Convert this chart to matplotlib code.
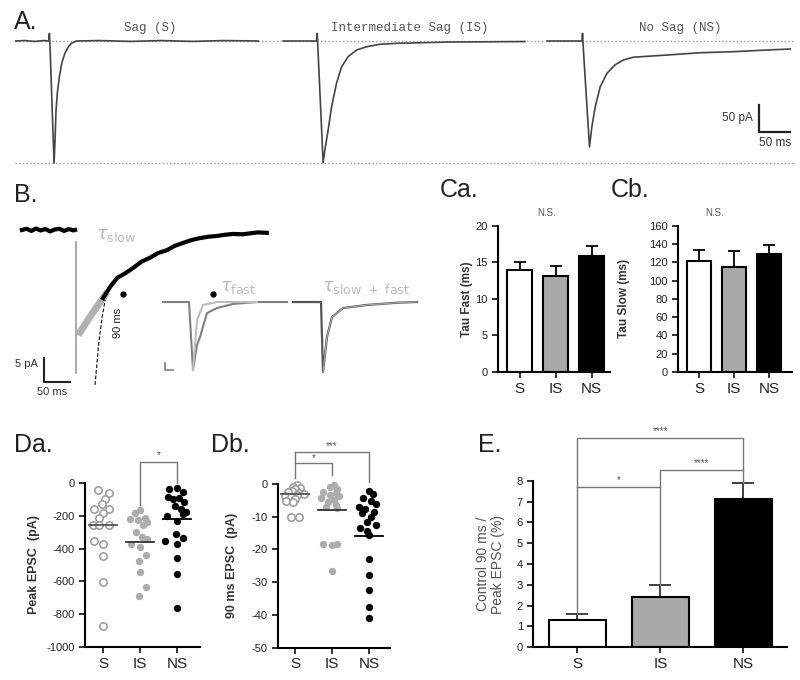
import matplotlib
matplotlib.use("Agg")
import matplotlib.pyplot as plt
import numpy as np

plt.rcParams['font.family'] = ['Liberation Sans', 'DejaVu Sans']
plt.rcParams['axes.unicode_minus'] = False

# ---------------- data ----------------
groups = ['S', 'IS', 'NS']
bar_colors = ['white', '#a9a9a9', 'black']

# panel A traces (ms, pA), t = 0 at stimulus
sag_t = [-56, -40, -25, -10, -2, -1, 0, 6.5, 8.1, 9.7, 11.8, 15, 18.9, 24.2, 29.5, 35, 43,
         80, 130, 180, 230, 280, 336]
sag_i = [0, 0.8, -0.8, 0.8, 0, 14, -10, -226, -183, -128, -96, -67, -41, -22, -11, -3.7, 0,
         0.8, -0.8, 0.8, -0.8, 0.8, 0]
isag_t = [-56, -2, -1, 0, 8.5, 11.3, 16.6, 22.1, 30.2, 38.2, 48.9, 62.4, 78.6, 100, 127, 213, 334]
isag_i = [0, 0, 14, -10, -225, -202, -165, -122, -78, -48, -29, -16.7, -10.6, -6.1, -4.3, -1.9, -1]
nosag_t = [-58, -2, -1, 0, 10.2, 14, 19.4, 27.4, 38.2, 51.6, 65, 81, 135, 189, 242, 296, 334]
nosag_i = [0, 0, 14, -10, -196, -159, -122, -85, -60, -44, -35, -30, -26, -21.7, -19.8, -16.7, -14.8]
trace_offsets = [0, 432, 860]
trace_titles = ['Sag (S)', 'Intermediate Sag (IS)', 'No Sag (NS)']

# panel B example trace (ms, pA)
b_base_t = [-104, -95, -86, -77, -68, -59, -50, -41, -32, -23, -14, -5, -2]
b_base_i = [0, 0.25, -0.2, 0.3, -0.1, 0.2, -0.3, 0.1, 0.25, -0.2, 0.2, -0.1, 0]
b_decay_t = [52, 66, 79, 95, 110, 126, 142, 158, 175, 190, 206, 222, 238, 255, 271, 286, 302, 320, 335, 350, 367]
b_decay_i = [-14.2, -11.8, -10.0, -9.0, -7.9, -6.6, -5.8, -4.8, -4.2, -3.3, -2.7, -2.1, -1.7, -1.4, -1.25, -1.0, -0.83, -0.9, -0.7, -0.5, -0.6]
b_slow_fit_t = [4, 30, 60]
b_slow_fit_i = [-21.9, -17.6, -12.9]
b_fast_ext_t = [36.5, 40, 44, 50, 56]
b_fast_ext_i = [-32.3, -28.1, -23.3, -18.3, -14.6]
b_artifact_i = [-2.5, -29.8]
b_90ms = (90, -13.3)

# panel B inset traces (arbitrary units)
fast_data_t = [-32.5, -1, 0, 5, 10, 13.75, 22.5, 35, 55, 85, 122.5]
fast_data_i = [0, 0, 0, -48.6, -30.7, -25, -7.9, -4.3, -1.4, 0, 0]
fast_fit_t = [5, 10, 17.5, 35, 85]
fast_fit_i = [-48.6, -12.9, -2.1, 0, 0]
combo_t = [130, 164, 165, 167.5, 172.5, 178.75, 192.5, 222.5, 260, 285]
combo_i = [0, 0, 0, -50, -25, -10.7, -4.3, -2.1, -0.5, 0]

# Ca / Cb
tau_fast_mean = [14.0, 13.1, 15.9]
tau_fast_sem = [1.0, 1.4, 1.3]
tau_slow_mean = [121, 115, 129]
tau_slow_sem = [12, 17, 10]

# Da peak EPSC (pA)
peak_s = [-45, -60, -100, -160, -130, -160, -185, -215, -255, -258, -258, -355, -375, -445, -605, -870]
peak_s_dx = [-0.13, 0.16, 0.04, -0.26, -0.02, 0.16, 0.01, -0.11, -0.28, -0.1, 0.16, -0.26, 0.01, 0.0, 0.01, 0.01]
peak_is = [-165, -185, -215, -222, -225, -240, -255, -300, -330, -345, -370, -390, -440, -475, -545, -635, -690]
peak_is_dx = [0.0, -0.15, 0.12, -0.28, -0.05, 0.2, 0.08, -0.12, 0.05, 0.18, -0.25, 0.0, 0.15, -0.02, 0.0, 0.15, -0.02]
peak_ns = [-40, -35, -55, -85, -100, -95, -120, -140, -160, -175, -200, -190, -235, -310, -335, -355, -372, -455, -552, -760]
peak_ns_dx = [-0.22, 0.0, 0.15, -0.25, -0.1, 0.05, 0.18, -0.05, 0.1, 0.25, -0.28, 0.15, 0.0, -0.02, 0.17, -0.32, 0.0, 0.0, 0.0, 0.0]
peak_means = [-256, -360, -220]

# Db 90 ms EPSC (pA)
late_s = [-0.3, -0.8, -1.2, -1.5, -2.0, -2.3, -2.6, -3.0, -3.5, -3.8, -4.1, -4.6, -5.3, -5.5, -10.0, -10.2]
late_s_dx = [0.05, -0.05, 0.15, 0.0, -0.08, -0.2, 0.1, 0.25, 0.05, -0.28, -0.1, 0.0, -0.25, -0.05, -0.1, 0.1]
late_is = [-0.3, -0.9, -1.5, -2.3, -2.6, -3.4, -3.8, -4.2, -4.8, -5.5, -6.4, -6.9, -7.3, -18.3, -18.6, -18.3, -26.5]
late_is_dx = [0.05, -0.05, 0.15, -0.25, 0.1, -0.05, 0.2, -0.3, 0.05, -0.1, 0.1, -0.15, 0.15, -0.25, 0.0, 0.15, 0.0]
late_ns = [-2.0, -3.0, -4.2, -5.2, -6.0, -7.0, -7.5, -8.5, -9.0, -10.0, -11.5, -12.5, -13.5, -14.5, -15.5, -22.8, -27.8, -32.5, -37.5, -41.0]
late_ns_dx = [0.0, 0.1, -0.15, 0.05, 0.18, -0.28, -0.1, 0.15, -0.2, 0.05, -0.05, 0.2, -0.25, -0.05, 0.0, 0.0, 0.0, 0.0, 0.0, 0.0]
late_means = [-3.1, -7.9, -16.0]

# E ratio (%)
ratio_mean = [1.3, 2.4, 7.1]
ratio_sem = [0.3, 0.6, 0.8]

# ---------------- layout helpers ----------------
W, H = 800, 680
fig = plt.figure(figsize=(8, 6.8), dpi=100)


def box(x0, y0, x1, y1):
    return [x0 / W, 1 - y1 / H, (x1 - x0) / W, (y1 - y0) / H]


def ftext(x, y, s, **kw):
    fig.text(x / W, 1 - y / H, s, **kw)


def prism(ax):
    for s in ['top', 'right']:
        ax.spines[s].set_visible(False)
    for s in ['left', 'bottom']:
        ax.spines[s].set_linewidth(1.5)
    ax.tick_params(direction='out', length=4, width=1.3, labelsize=8, colors='#222')
    ax.tick_params(axis='x', labelsize=11, pad=3)


label_kw = dict(fontsize=18, color='#222', va='center', ha='left')
ftext(14, 22, 'A.', **label_kw)
ftext(14, 195, 'B.', **label_kw)
ftext(440, 190, 'Ca.', **label_kw)
ftext(611, 190, 'Cb.', **label_kw)
ftext(14, 445, 'Da.', **label_kw)
ftext(211, 445, 'Db.', **label_kw)
ftext(478, 445, 'E.', **label_kw)

# ---------------- panel A ----------------
axA = fig.add_axes(box(15, 25, 795, 168))
axA.set_xlim(-56.5, 1201.7)
axA.set_ylim(-235, 29.6)
axA.axis('off')
axA.axhline(0, color='#999', ls=':', lw=1)
axA.axhline(-226, color='#999', ls=':', lw=1)
for (t, i), off in zip([(sag_t, sag_i), (isag_t, isag_i), (nosag_t, nosag_i)], trace_offsets):
    axA.plot(np.array(t) + off, i, color='#444', lw=1.2)
for title, xc in zip(trace_titles, [150, 410, 680]):
    ftext(xc, 28, title, family='Liberation Mono', fontsize=9, color='#555', ha='center', va='center')
# scale bar 50 pA / 50 ms
axA.plot([1143.6, 1143.6, 1193.6], [-118.5, -168.5, -168.5], color='#222', lw=1.6)
axA.text(1134, -143, '50 pA', ha='right', va='center', fontsize=8.5, color='#333')
axA.text(1170, -178, '50 ms', ha='center', va='top', fontsize=8.5, color='#333')

# ---------------- panel B ----------------
axB = fig.add_axes(box(10, 220, 280, 395))
axB.set_xlim(-127, 392.3)
axB.set_ylim(-34.4, 2.08)
axB.axis('off')
axB.plot([0, 0], b_artifact_i, color='#999', lw=1.2)
axB.plot(b_slow_fit_t, b_slow_fit_i, color='#b0b0b0', lw=5, solid_capstyle='butt')
axB.plot(b_fast_ext_t, b_fast_ext_i, color='#222', lw=0.9, ls=(0, (3, 1.5)))
axB.plot(b_base_t, b_base_i, color='black', lw=3)
axB.plot(b_decay_t, b_decay_i, color='black', lw=3)
axB.plot(*b_90ms, 'o', color='black', ms=3.5)
axB.plot([-61.5, -61.5, -11.5], [-26.7, -31.7, -31.7], color='#222', lw=1.5)
ftext(38, 364, '5 pA', fontsize=8, color='#333', ha='right', va='center')
ftext(52, 387, '50 ms', fontsize=8, color='#333', ha='center', va='top')
ftext(118, 323, '90 ms', fontsize=8, color='#222', ha='center', va='center', rotation=90)
ftext(96, 236, r'$\tau_{\mathrm{slow}}$', fontsize=13, color='#bbbbbb', ha='left', va='center')

axB2 = fig.add_axes(box(155, 275, 425, 380))
axB2.set_xlim(-42.5, 295)
axB2.set_ylim(-55.7, 19.3)
axB2.axis('off')
axB2.plot(fast_data_t, fast_data_i, color='#808080', lw=1.5)
axB2.plot(fast_fit_t, fast_fit_i, color='#bdbdbd', lw=1.5)
axB2.plot(30, 5.7, 'o', color='black', ms=3.5)
axB2.plot(combo_t, combo_i, color='#555', lw=1.6)
axB2.plot(combo_t[3:], combo_i[3:], color='#aaa', lw=0.8)
axB2.plot([-30, -30, -20], [-43.6, -48.6, -48.6], color='#888', lw=1.3)
ftext(220, 287, r'$\tau_{\mathrm{fast}}$', fontsize=13, color='#bbbbbb', ha='left', va='center')
ftext(322, 287, r'$\tau_{\mathrm{slow\ +\ fast}}$', fontsize=13, color='#bbbbbb', ha='left', va='center')

# ---------------- panel Ca ----------------
x3 = np.arange(3)
axCa = fig.add_axes(box(498, 225.7, 610, 372))
axCa.bar(x3, tau_fast_mean, width=0.69, color=bar_colors, edgecolor='black', lw=1.5, zorder=2)
axCa.errorbar(x3, tau_fast_mean, yerr=[np.zeros(3), tau_fast_sem], fmt='none', ecolor='black',
              elinewidth=1.3, capsize=4, capthick=1.3, zorder=1)
axCa.set_xlim(-0.6, 2.51)
axCa.set_ylim(0, 20)
axCa.set_yticks([0, 5, 10, 15, 20])
axCa.set_xticks(x3)
axCa.set_xticklabels(groups)
prism(axCa)
axCa.set_ylabel('Tau Fast (ms)', fontsize=8.5, fontweight='bold', color='#333')
axCa.yaxis.set_label_coords(-0.22, 0.5)
ftext(547, 213, 'N.S.', fontsize=7, color='#555', ha='center', va='center')

# ---------------- panel Cb ----------------
axCb = fig.add_axes(box(678, 225.7, 792, 372))
axCb.bar(x3, tau_slow_mean, width=0.69, color=bar_colors, edgecolor='black', lw=1.5, zorder=2)
axCb.errorbar(x3, tau_slow_mean, yerr=[np.zeros(3), tau_slow_sem], fmt='none', ecolor='black',
              elinewidth=1.3, capsize=4, capthick=1.3, zorder=1)
axCb.set_xlim(-0.6, 2.66)
axCb.set_ylim(0, 160)
axCb.set_yticks(range(0, 161, 20))
axCb.set_xticks(x3)
axCb.set_xticklabels(groups)
prism(axCb)
axCb.set_ylabel('Tau Slow (ms)', fontsize=8.5, fontweight='bold', color='#333')
axCb.yaxis.set_label_coords(-0.42, 0.5)
ftext(715, 213, 'N.S.', fontsize=7, color='#555', ha='center', va='center')


# ---------------- dot plots ----------------
def dots(ax, vals_list, dx_list, means):
    ax.scatter(0 + np.array(dx_list[0]), vals_list[0], s=28, facecolor='white',
               edgecolor='#999', lw=1.1, zorder=3, clip_on=False)
    ax.scatter(1 + np.array(dx_list[1]), vals_list[1], s=28, color='#adadad', lw=0, zorder=3, clip_on=False)
    ax.scatter(2 + np.array(dx_list[2]), vals_list[2], s=28, color='black', lw=0, zorder=3, clip_on=False)
    for k, m in enumerate(means):
        ax.plot([k - 0.38, k + 0.38], [m, m], color=['#555', '#333', 'black'][k], lw=1.3, zorder=4)


axDa = fig.add_axes(box(85, 482.7, 200, 647.3))
dots(axDa, [peak_s, peak_is, peak_ns], [peak_s_dx, peak_is_dx, peak_ns_dx], peak_means)
axDa.set_xlim(-0.49, 2.62)
axDa.set_ylim(-1000, 0)
axDa.set_yticks(range(-1000, 1, 200))
axDa.set_xticks(x3)
axDa.set_xticklabels(groups)
prism(axDa)
axDa.set_ylabel('Peak EPSC  (pA)', fontsize=9, fontweight='bold', color='#333')
axDa.yaxis.set_label_coords(-0.39, 0.5)
br = dict(color='#777', lw=1, clip_on=False)
axDa.plot([1, 1, 2, 2], [-133, 127, 127, -2], **br)
axDa.text(1.5, 135, '*', ha='center', va='bottom', fontsize=7, color='#555')

axDb = fig.add_axes(box(278.3, 484, 390, 647.7))
dots(axDb, [late_s, late_is, late_ns], [late_s_dx, late_is_dx, late_ns_dx], late_means)
axDb.set_xlim(-0.45, 2.57)
axDb.set_ylim(-50, 0)
axDb.set_yticks(range(-50, 1, 10))
axDb.set_xticks(x3)
axDb.set_xticklabels(groups)
prism(axDb)
axDb.set_ylabel('90 ms EPSC  (pA)', fontsize=9, fontweight='bold', color='#333')
axDb.yaxis.set_label_coords(-0.36, 0.5)
axDb.plot([0, 0], [1.7, 9.9], **br)
axDb.plot([0, 2, 2], [9.9, 9.9, 0.5], **br)
axDb.plot([0, 1, 1], [6.3, 6.3, 2.8], **br)
axDb.text(0.5, 6.5, '*', ha='center', va='bottom', fontsize=7, color='#555')
axDb.text(1.0, 10.1, '***', ha='center', va='bottom', fontsize=7, color='#555')

# ---------------- panel E ----------------
axE = fig.add_axes(box(533.3, 480.7, 786.7, 647.3))
axE.bar(x3, ratio_mean, width=0.69, color=bar_colors, edgecolor='black', lw=1.5, zorder=2)
axE.errorbar(x3, ratio_mean, yerr=[np.zeros(3), ratio_sem], fmt='none', ecolor='#333',
             elinewidth=1.3, capsize=8, capthick=1.3, zorder=1)
axE.set_xlim(-0.53, 2.52)
axE.set_ylim(0, 8)
axE.set_yticks(range(0, 9))
axE.set_xticks(x3)
axE.set_xticklabels(groups)
prism(axE)
axE.set_ylabel('Control 90 ms /\nPeak EPSC (%)', fontsize=10, color='#555', linespacing=1.1)
axE.yaxis.set_label_coords(-0.11, 0.5)
axE.plot([0, 0, 2, 2], [1.6, 10.05, 10.05, 7.9], **br)
axE.plot([1, 1, 2], [3.0, 8.52, 8.52], **br)
axE.plot([0, 1], [7.72, 7.72], **br)
axE.text(1.0, 10.12, '****', ha='center', va='bottom', fontsize=7, color='#555')
axE.text(1.5, 8.59, '****', ha='center', va='bottom', fontsize=7, color='#555')
axE.text(0.5, 7.79, '*', ha='center', va='bottom', fontsize=7, color='#555')

fig.savefig('out.png', dpi=100)
